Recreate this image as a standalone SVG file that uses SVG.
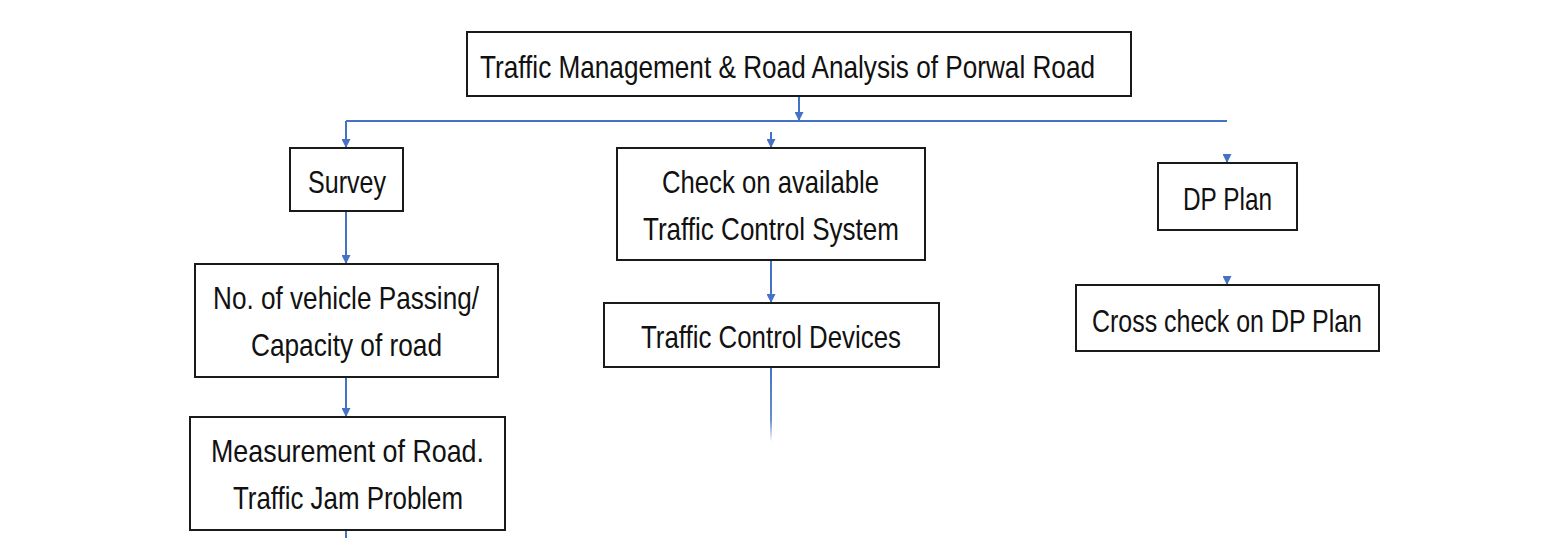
<svg xmlns="http://www.w3.org/2000/svg" width="1549" height="538" viewBox="0 0 1549 538">
<defs>
<marker id="ah" viewBox="0 0 10 10" refX="10" refY="5" markerWidth="4.5" markerHeight="4.5" orient="auto" markerUnits="strokeWidth">
<path d="M0,0 L10,5 L0,10 z" fill="#4472C4"/>
</marker>
<linearGradient id="fade" x1="0" y1="0" x2="0" y2="1">
<stop offset="0" stop-color="#4472C4" stop-opacity="1"/>
<stop offset="0.7" stop-color="#4472C4" stop-opacity="0.8"/>
<stop offset="1" stop-color="#4472C4" stop-opacity="0"/>
</linearGradient>
</defs>
<style>
.box{fill:#fff;stroke:#1a1a1a;stroke-width:2}
.t{font-family:"Liberation Sans",Arial,sans-serif;font-size:32px;fill:#111;text-anchor:start}
.c{fill:none;stroke:#4472C4;stroke-width:2}
</style>
<rect width="1549" height="538" fill="#fff"/>
<g id="connectors">
<line class="c" x1="799" y1="96" x2="799" y2="121" marker-end="url(#ah)"/>
<line class="c" x1="346" y1="121" x2="1227" y2="121"/>
<line class="c" x1="346" y1="121" x2="346" y2="148" marker-end="url(#ah)"/>
<line class="c" x1="771" y1="132" x2="771" y2="148" marker-end="url(#ah)"/>
<line class="c" x1="1227" y1="154" x2="1227" y2="163" marker-end="url(#ah)"/>
<line class="c" x1="1227" y1="276" x2="1227" y2="285" marker-end="url(#ah)"/>
<line class="c" x1="346" y1="211" x2="346" y2="264" marker-end="url(#ah)"/>
<line class="c" x1="771" y1="260" x2="771" y2="303" marker-end="url(#ah)"/>
<line class="c" x1="346" y1="377" x2="346" y2="417" marker-end="url(#ah)"/>
<rect x="770" y="367" width="2" height="75" fill="url(#fade)"/>
<line class="c" x1="346" y1="530" x2="346" y2="538"/>
</g>
<g id="title">
<rect class="box" x="467" y="32" width="664" height="64"/>
<text class="t" x="480" y="78" textLength="615" lengthAdjust="spacingAndGlyphs">Traffic Management &amp; Road Analysis of Porwal Road</text>
</g>
<g id="survey">
<rect class="box" x="290" y="148" width="113" height="63"/>
<text class="t" x="308" y="193" textLength="78" lengthAdjust="spacingAndGlyphs">Survey</text>
</g>
<g id="check">
<rect class="box" x="617" y="148" width="308" height="112"/>
<text class="t" x="662" y="193" textLength="217" lengthAdjust="spacingAndGlyphs">Check on available</text>
<text class="t" x="643" y="240" textLength="256" lengthAdjust="spacingAndGlyphs">Traffic Control System</text>
</g>
<g id="dpplan">
<rect class="box" x="1158" y="163" width="139" height="67"/>
<text class="t" x="1183" y="210" textLength="89" lengthAdjust="spacingAndGlyphs">DP Plan</text>
</g>
<g id="vehicle">
<rect class="box" x="195" y="264" width="303" height="113"/>
<text class="t" x="213" y="309" textLength="266" lengthAdjust="spacingAndGlyphs">No. of vehicle Passing/</text>
<text class="t" x="251" y="356" textLength="191" lengthAdjust="spacingAndGlyphs">Capacity of road</text>
</g>
<g id="devices">
<rect class="box" x="604" y="303" width="335" height="64"/>
<text class="t" x="641" y="348" textLength="260" lengthAdjust="spacingAndGlyphs">Traffic Control Devices</text>
</g>
<g id="crosscheck">
<rect class="box" x="1076" y="285" width="303" height="66"/>
<text class="t" x="1092" y="332" textLength="270" lengthAdjust="spacingAndGlyphs">Cross check on DP Plan</text>
</g>
<g id="measurement">
<rect class="box" x="190" y="417" width="315" height="113"/>
<text class="t" x="211" y="462" textLength="273" lengthAdjust="spacingAndGlyphs">Measurement of Road.</text>
<text class="t" x="233" y="509" textLength="230" lengthAdjust="spacingAndGlyphs">Traffic Jam Problem</text>
</g>
</svg>
